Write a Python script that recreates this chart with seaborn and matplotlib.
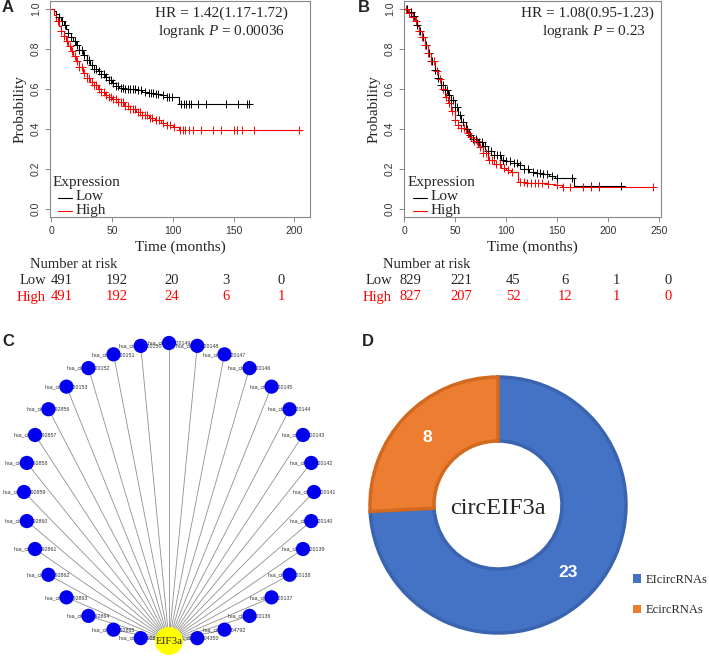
import numpy as np
import seaborn as sns
import matplotlib.pyplot as plt
from matplotlib.lines import Line2D
from matplotlib.patches import Patch

# ---------------- data ----------------
# panel A, KM curves (time in months, survival probability)
a_low_t = [0, 2, 4, 6, 8, 10, 12, 14, 16, 18, 20, 23, 26, 29, 32, 35, 38, 41, 44, 47, 50, 53, 56,
           60, 65, 70, 75, 80, 85, 90, 95, 100, 105, 164]
a_low_s = [1.0, 0.99, 0.975, 0.96, 0.94, 0.92, 0.9, 0.88, 0.86, 0.84, 0.82, 0.795, 0.77, 0.745, 0.72,
           0.70, 0.69, 0.675, 0.66, 0.645, 0.63, 0.615, 0.605, 0.60, 0.598, 0.593, 0.585, 0.58,
           0.575, 0.57, 0.56, 0.558, 0.523, 0.523]
a_low_cens = [6, 9, 11, 14, 16, 19, 21, 23, 25, 27, 29, 31, 33, 35, 37, 39, 41, 43, 45, 47, 49, 51,
              53, 55, 57, 59, 61, 63, 65, 67, 69, 71, 74, 77, 80, 82, 84, 86, 88, 92, 95, 97, 99,
              107, 109, 111, 113, 115, 121, 127, 144, 154, 161, 163]
a_high_t = [0, 2, 4, 6, 8, 10, 12, 14, 16, 18, 20, 23, 26, 29, 32, 35, 38, 41, 44, 47, 50, 55, 60,
            65, 70, 75, 80, 85, 90, 95, 100, 105, 206]
a_high_s = [1.0, 0.97, 0.94, 0.915, 0.89, 0.865, 0.84, 0.815, 0.79, 0.765, 0.74, 0.71, 0.68, 0.655,
            0.635, 0.62, 0.60, 0.585, 0.57, 0.558, 0.55, 0.535, 0.515, 0.50, 0.485, 0.47, 0.455,
            0.445, 0.43, 0.42, 0.41, 0.397, 0.397]
a_high_cens = [5, 8, 10, 13, 15, 17, 19, 21, 23, 25, 27, 29, 31, 33, 35, 37, 39, 41, 43, 45, 47, 49,
               51, 53, 55, 57, 59, 61, 63, 65, 67, 69, 71, 73, 75, 77, 79, 81, 83, 86, 89, 92, 95,
               98, 101, 106, 108, 110, 113, 117, 123, 133, 140, 150, 153, 157, 167, 204]
a_risk_t = [0, 50, 100, 150, 200]
a_risk_low = [491, 192, 20, 3, 0]
a_risk_high = [491, 192, 24, 6, 1]

# panel B
b_low_t = [0, 4, 8, 10, 12, 14, 17, 20, 23, 26, 30, 33, 36, 40, 43, 46, 50, 53, 56, 60, 63, 67, 72,
           77, 82, 88, 95, 100, 108, 112, 117, 122, 128, 135, 142, 148, 167, 217]
b_low_s = [1.0, 0.985, 0.965, 0.945, 0.92, 0.89, 0.86, 0.82, 0.78, 0.74, 0.695, 0.655, 0.62, 0.595,
           0.57, 0.545, 0.51, 0.47, 0.437, 0.40, 0.37, 0.35, 0.337, 0.315, 0.29, 0.27, 0.245,
           0.24, 0.232, 0.22, 0.2, 0.187, 0.18, 0.175, 0.165, 0.155, 0.115, 0.115]
b_low_cens = [3, 6, 9, 12, 15, 18, 21, 24, 27, 30, 33, 36, 38, 40, 42, 44, 46, 48, 50, 52, 55, 58,
              61, 64, 67, 70, 73, 76, 79, 82, 85, 88, 91, 94, 97, 100, 104, 108, 111, 114, 117,
              121, 126, 130, 133, 136, 140, 145, 150, 165, 183, 191, 213]
b_high_t = [0, 4, 8, 10, 12, 14, 17, 20, 23, 26, 30, 33, 36, 40, 43, 46, 50, 53, 56, 60, 63, 67,
            72, 77, 82, 88, 95, 100, 105, 112, 120, 131, 140, 148, 155, 246]
b_high_s = [1.0, 0.982, 0.96, 0.94, 0.915, 0.89, 0.86, 0.82, 0.78, 0.74, 0.69, 0.65, 0.60, 0.56,
            0.528, 0.49, 0.445, 0.42, 0.403, 0.38, 0.362, 0.34, 0.312, 0.28, 0.245, 0.225, 0.203,
            0.195, 0.187, 0.137, 0.132, 0.128, 0.125, 0.12, 0.108, 0.108]
b_high_cens = [2, 5, 8, 11, 14, 17, 20, 23, 26, 29, 32, 35, 38, 41, 44, 47, 50, 53, 56, 59, 62, 65,
               68, 71, 74, 77, 80, 83, 86, 90, 94, 98, 102, 106, 114, 117, 120, 124, 128, 131, 135,
               141, 150, 156, 163, 175, 183, 191, 244]
b_risk_t = [0, 50, 100, 150, 200, 250]
b_risk_low = [829, 221, 45, 6, 1, 0]
b_risk_high = [827, 207, 52, 12, 1, 0]

# panel C, network
hub_name = "EIF3a"
circ_ids = ["0092866", "0092865", "0092864", "0092863", "0092862", "0092861", "0092860", "0092859",
            "0092858", "0092857", "0092856", "0020153", "0020152", "0020151", "0020150", "0020149",
            "0020148", "0020147", "0020146", "0020145", "0020144", "0020143", "0020142", "0020141",
            "0020140", "0020139", "0020138", "0020137", "0020136", "0004792", "0004350"]

# panel D, donut
donut_labels = ["EIcircRNAs", "EcircRNAs"]
donut_counts = [23, 8]
donut_colors = ["#4472C4", "#ED7D31"]
donut_edges = ["#3A64B0", "#D2691F"]

# ---------------- figure ----------------
sns.set_theme(style="white")
plt.rcParams['font.family'] = ['Liberation Serif', 'DejaVu Serif']
plt.rcParams['mathtext.fontset'] = 'custom'
plt.rcParams['mathtext.it'] = 'Liberation Serif:italic'
plt.rcParams['mathtext.rm'] = 'Liberation Serif'

W, H = 709, 657
fig = plt.figure(figsize=(W / 100, H / 100), dpi=100)


def px_axes(x0, y0, x1, y1):
    return fig.add_axes([x0 / W, 1 - y1 / H, (x1 - x0) / W, (y1 - y0) / H])


def ftxt(x, y, s, **kw):
    kw.setdefault('va', 'center')
    return fig.text(x / W, 1 - y / H, s, **kw)


def step_value(t, s, x):
    idx = np.searchsorted(t, x, side='right') - 1
    return np.asarray(s)[idx]


def km_panel(box, xlim, xticks, low, high, hr, pval, hr_x, ox):
    ax = px_axes(*box)
    for (t, s, c), col in zip([low, high], ['black', 'red']):
        sns.lineplot(x=t, y=s, drawstyle='steps-post', color=col, lw=0.8, ax=ax, estimator=None)
        sns.scatterplot(x=c, y=step_value(t, s, c), marker='+', s=30, color=col,
                        linewidth=0.7, ax=ax, legend=False, zorder=3)
    ax.set_xlim(*xlim)
    ax.set_ylim(-0.04, 1.04)
    ax.set_xticks(xticks)
    ax.set_yticks(np.arange(0, 1.01, 0.2))
    ax.set_yticklabels(['%.1f' % v for v in np.arange(0, 1.01, 0.2)], rotation=90, va='center')
    for lab in ax.get_xticklabels() + ax.get_yticklabels():
        lab.set_fontfamily('Liberation Sans')
        lab.set_fontsize(7.5)
        lab.set_color('#333333')
    ax.tick_params(direction='out', length=3.5, width=0.6, color='#777777', pad=3,
                   bottom=True, left=True)
    for sp in ax.spines.values():
        sp.set_color('#888888')
        sp.set_linewidth(0.8)
    ax.set_xlabel('Time (months)', fontsize=11, labelpad=3)
    ax.set_ylabel('Probability', fontsize=11, labelpad=3)
    ftxt(hr_x, 13, hr, ha='center', fontsize=11)
    ftxt(hr_x + ox, 31, 'logrank $P$ = ' + pval, ha='center', fontsize=11)
    return ax


km_panel((50, 1, 310, 217), (-1.2, 213), [0, 50, 100, 150, 200],
         (a_low_t, a_low_s, a_low_cens), (a_high_t, a_high_s, a_high_cens),
         'HR = 1.42(1.17-1.72)', '0.00036', 221, 0)
km_panel((404, 1, 661, 217), (-0.4, 252), [0, 50, 100, 150, 200, 250],
         (b_low_t, b_low_s, b_low_cens), (b_high_t, b_high_s, b_high_cens),
         'HR = 1.08(0.95-1.23)', '0.23', 587, 7)

# legends of the KM panels
for x0 in [0, 355]:
    ftxt(53 + x0, 183, 'Expression', fontsize=11)
    for yy, col, lab in [(197.5, 'black', 'Low'), (211, 'red', 'High')]:
        fig.add_artist(Line2D([(58 + x0) / W, (72 + x0) / W], [1 - yy / H] * 2, color=col,
                              lw=0.8, transform=fig.transFigure))
        ftxt(76 + x0, yy - 0.5, lab, fontsize=11)


# number at risk tables
def risk_table(x_head, x_lab, p0, scale, times, low, high):
    ftxt(x_head, 265, 'Number at risk', fontsize=10.5)
    ftxt(x_lab, 281, 'Low', ha='right', fontsize=10.5)
    ftxt(x_lab, 297, 'High', ha='right', fontsize=10.5, color='red')
    for t, nl, nh in zip(times, low, high):
        ftxt(p0 + t * scale, 281, str(nl), ha='center', fontsize=10.5)
        ftxt(p0 + t * scale, 297, str(nh), ha='center', fontsize=10.5, color='red')


risk_table(30, 46, 62, 1.095, a_risk_t, a_risk_low, a_risk_high)
risk_table(383, 392, 410, 1.032, b_risk_t, b_risk_low, b_risk_high)

# ---------------- panel C: network ----------------
cax = px_axes(0, 330, 355, 657)
cax.set_xlim(0, 355)
cax.set_ylim(657, 330)
cax.axis('off')
n_nodes = len(circ_ids) + 1
ang = np.deg2rad(270 - (np.arange(len(circ_ids)) + 1) * 360 / n_nodes)
cx, cy, rx, ry = 169, 492, 145, 149
node_x = cx + rx * np.cos(ang)
node_y = cy - ry * np.sin(ang)
hub_x, hub_y = cx, cy + ry
for x, y, cid in zip(node_x, node_y, circ_ids):
    cax.plot([hub_x, x], [hub_y, y], color='#8f8f8f', lw=0.6, zorder=1)
    cax.text(x, y, 'hsa_circ_' + cid, fontsize=3.8, ha='center', va='center',
             family='Liberation Sans', color='#333333', zorder=2)
sns.scatterplot(x=node_x, y=node_y, s=105, color='#0000EE', edgecolor='none', ax=cax,
                legend=False, zorder=3)
cax.scatter([hub_x], [hub_y], s=410, color='#FFFF00', edgecolor='none', zorder=4)
cax.text(hub_x, hub_y, hub_name, fontsize=8, ha='center', va='center', zorder=5)

# ---------------- panel D: donut ----------------
dax = px_axes(370, 377, 626, 633)
total = sum(donut_counts)
wedges, _, autotexts = dax.pie(donut_counts, colors=donut_colors, startangle=90,
                               counterclock=False, radius=1,
                               wedgeprops=dict(width=0.5, linewidth=2.5),
                               autopct=lambda p: '%d' % round(p * total / 100),
                               pctdistance=0.76,
                               textprops=dict(color='white', fontsize=12.5, weight='bold',
                                              family='Liberation Sans'))
for w, ec in zip(wedges, donut_edges):
    w.set_edgecolor(ec)
dax.set_xlim(-1, 1)
dax.set_ylim(-1, 1)
dax.set_aspect('equal')
dax.text(0, -0.03, 'circEIF3a', ha='center', va='center', fontsize=17.5)
handles = [Patch(facecolor=c, edgecolor='none') for c in donut_colors]
fig.legend(handles, donut_labels, loc='upper left', bbox_to_anchor=(633 / W, 1 - 574 / H),
           frameon=False, fontsize=9, handlelength=0.65, handleheight=0.65,
           handletextpad=0.35, labelspacing=1.45, borderpad=0, borderaxespad=0)

# panel letters
for lx, ly, letter in [(2, 8, 'A'), (358, 8, 'B'), (2, 341, 'C'), (362, 341, 'D')]:
    ftxt(lx, ly, letter, fontsize=12, weight='bold', family='Liberation Sans')

fig.savefig('out.png', dpi=100)
